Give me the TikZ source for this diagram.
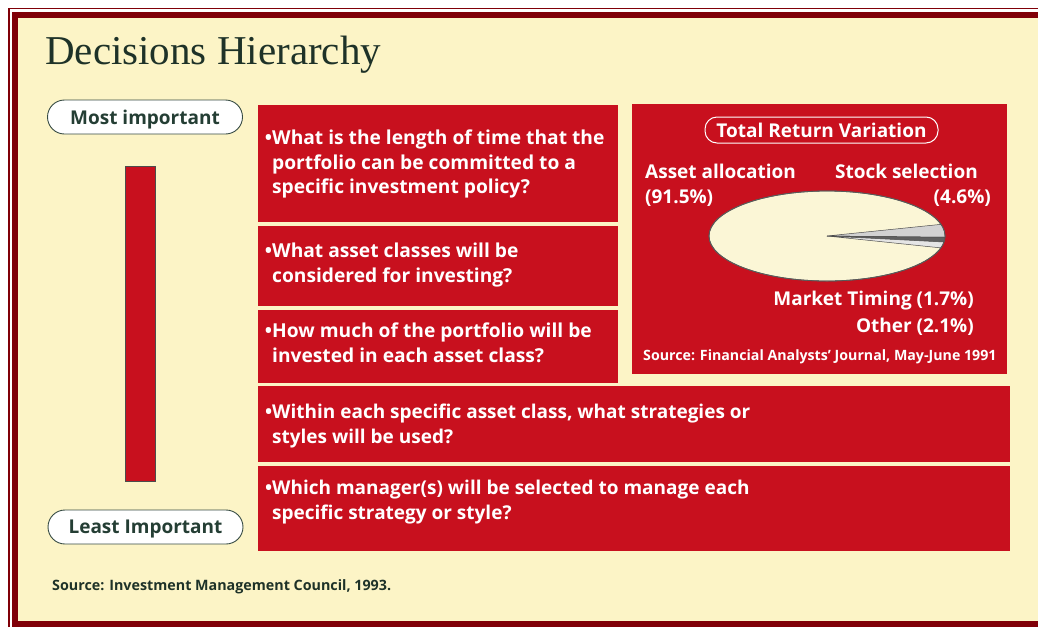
\documentclass[tikz,border=0pt]{standalone}
\usepackage{fontspec}
\usetikzlibrary{shapes.geometric}
\setsansfont{Open Sans}
\newfontfamily\titlefont{Liberation Serif}
\definecolor{cream}{RGB}{252,244,198}
\definecolor{frame}{RGB}{128,0,8}
\definecolor{boxred}{RGB}{200,16,30}
\definecolor{inkgreen}{RGB}{30,50,40}
\definecolor{pillink}{RGB}{36,62,52}
\definecolor{pieface}{RGB}{251,246,214}
\begin{document}
\begin{tikzpicture}[x=1pt,y=-1pt,
  redbox/.style={fill=boxred, draw=none, anchor=north west, inner sep=0pt},
  qtext/.style={anchor=north west, inner sep=0pt, align=left, text=white,
    font=\sffamily\bfseries\fontsize{19.2}{24.5}\selectfont},
  pill/.style={draw=pillink!80!gray, line width=0.9pt, fill=white, rounded corners=17pt,
    minimum width=195pt, minimum height=34pt, inner sep=0pt, text=pillink, text depth=0pt,
    font=\sffamily\bfseries\fontsize{19}{22}\selectfont},
  charttext/.style={inner sep=0pt, text=white, font=\sffamily\bfseries\fontsize{19}{22}\selectfont},
  slice/.style={draw=black!70, line width=0.5pt}
]
\useasboundingbox (0,0) rectangle (1038,627);
% page and frame
\fill[white] (0,0) rectangle (1038,627);
\draw[frame, line width=1.5pt] (9,627) -- (9,8.5) -- (1038,8.5);
\fill[frame] (12,12) rectangle (1038,627);
\fill[cream] (18,18) rectangle (1038,621);
% title
\node[anchor=base west, inner sep=0pt, text=inkgreen, font=\titlefont\fontsize{41}{46}\selectfont] (title) at (45,64) {Decisions Hierarchy};
% importance scale
\node[pill] (most) at (145,117) {Most important};
\node[pill] (least) at (145.5,527) {Least Important};
\node[fill=boxred, draw=black!70, line width=0.9pt, minimum width=30pt, minimum height=315pt, inner sep=0pt, anchor=north west] (bar) at (125,166) {};
% question boxes
\node[redbox, minimum width=360pt, minimum height=117pt] (b1) at (258,105) {};
\node[redbox, minimum width=360pt, minimum height=80pt] (b2) at (258,226) {};
\node[redbox, minimum width=360pt, minimum height=73pt] (b3) at (258,310) {};
\node[redbox, minimum width=752pt, minimum height=76pt] (b4) at (258,386) {};
\node[redbox, minimum width=752pt, minimum height=85pt] (b5) at (258,466) {};
\node[qtext] (q1) at (272,130) {\llap{•}What is the length of time that the\\portfolio can be committed to a\\specific investment policy?};
\node[qtext] (q2) at (272,243) {\llap{•}What asset classes will be\\considered for investing?};
\node[qtext] (q3) at (272,323) {\llap{•}How much of the portfolio will be\\invested in each asset class?};
\node[qtext, font=\sffamily\bfseries\fontsize{19}{24.5}\selectfont] (q4) at (272,404) {\llap{•}Within each specific asset class, what strategies or\\styles will be used?};
\node[qtext, font=\sffamily\bfseries\fontsize{19}{24.5}\selectfont] (q5) at (272,480) {\llap{•}Which manager(s) will be selected to manage each\\specific strategy or style?};
% chart panel
\node[redbox, minimum width=375pt, minimum height=270pt] (chart) at (632,104) {};
\node[draw=white, line width=1pt, rounded corners=12pt, minimum width=233pt, minimum height=26pt, inner sep=0pt, text=white, text depth=0pt, font=\sffamily\bfseries\fontsize{19}{22}\selectfont] (trv) at (821.5,130) {Total Return Variation};
\node[charttext, anchor=base west] (aa) at (645,178) {Asset allocation};
\node[charttext, anchor=base west] (aap) at (645,203) {(91.5\%)};
\node[charttext, anchor=base east] (ss) at (978,178) {Stock selection};
\node[charttext, anchor=base east] (ssp) at (991,203) {(4.6\%)};
\node[draw=black!65, line width=0.8pt, fill=pieface, ellipse, minimum width=236pt, minimum height=90pt, inner sep=0pt] (pie) at (827,236) {};
\coordinate (pc) at (827,236);
\filldraw[slice, fill=gray!35] (pc) -- ++(15:118pt and 45pt) arc[start angle=15, end angle=-1.6, x radius=118pt, y radius=45pt] -- cycle;
\filldraw[slice, fill=gray!75!black] (pc) -- ++(-1.6:118pt and 45pt) arc[start angle=-1.6, end angle=-7.7, x radius=118pt, y radius=45pt] -- cycle;
\filldraw[slice, fill=gray!20] (pc) -- ++(-7.7:118pt and 45pt) arc[start angle=-7.7, end angle=-15.3, x radius=118pt, y radius=45pt] -- cycle;
\draw[black!65, line width=0.8pt] (pie.center) ellipse [x radius=118pt, y radius=45pt];
\node[charttext, anchor=base east] (mt) at (974,305) {Market Timing (1.7\%)};
\node[charttext, anchor=base east] (ot) at (974,332) {Other (2.1\%)};
\node[inner sep=0pt, anchor=base west, text=white, font=\sffamily\bfseries\fontsize{14.2}{17}\selectfont] (src1) at (643,360) {Source: Financial Analysts’ Journal, May-June 1991};
% bottom source
\node[inner sep=0pt, anchor=base west, text=inkgreen, font=\sffamily\bfseries\fontsize{14.3}{17}\selectfont] (src2) at (52,590) {Source: Investment Management Council, 1993.};
\end{tikzpicture}
\end{document}
